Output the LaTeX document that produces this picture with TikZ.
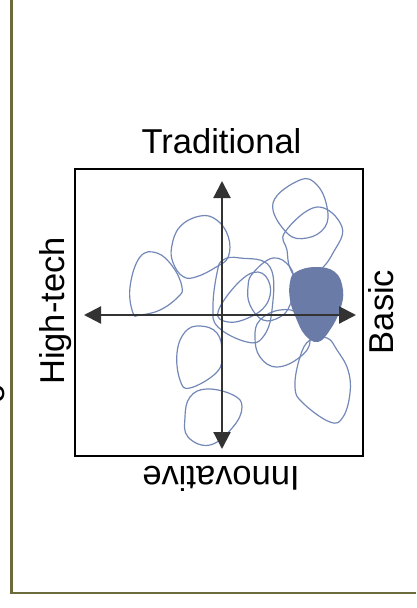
\documentclass[tikz,border=0pt]{standalone}
\usepackage{fontspec}
\setmainfont{Liberation Sans}
\usetikzlibrary{arrows.meta}
\definecolor{olive}{HTML}{6B6B3B}
\definecolor{blobline}{HTML}{7488B8}
\definecolor{blobfill}{HTML}{6B7BA8}
\definecolor{axis}{HTML}{333333}
\tikzset{
  blob/.style={draw=blobline, line width=1.2pt},
  filledblob/.style={fill=blobfill, draw=none},
  axisline/.style={draw=axis, line width=2.2pt, -{Triangle[length=17pt,width=17pt]}},
  lab/.style={font=\fontsize{34.5}{38}\selectfont, inner sep=0pt, anchor=base},
}
\begin{document}
\begin{tikzpicture}[x=1pt,y=-1pt]
\useasboundingbox (0,0) rectangle (416,608);
\fill[white] (0,0) rectangle (416,608);
% page border
\draw[olive, line width=2.5pt] (11.5,0) -- (11.5,593) -- (416,593);
% partial glyph at left edge
\node[lab, rotate=90, anchor=center] (cut) at (-5,394) {o};
% frame
\draw[black, line width=2pt] (75,169) rectangle (363,456);
% blobs
\draw[blob] plot[smooth cycle, tension=0.7] coordinates {(133,313) (130,287) (140,257) (157,253) (173,267) (182,287) (178,297) (160,310) (140,315)};
\draw[blob] plot[smooth cycle, tension=0.7] coordinates {(171.7,246.7) (180,226.7) (200,216) (216.7,220) (228.3,236.7) (228.3,256.7) (216.7,266.7) (196.7,276.7) (183.3,276.7) (173.3,263.3)};
\draw[blob] plot[smooth cycle, tension=0.7] coordinates {(223,260) (240,258) (270,267) (272,310) (263,337) (247,342) (218,327) (213,307) (217,273)};
\draw[blob] plot[smooth cycle, tension=0.7] coordinates {(218,312) (238,283) (258,272) (270,285) (266,305) (248,318) (228,322)};
\draw[blob] plot[smooth cycle, tension=0.7] coordinates {(253,273) (273,258) (290,267) (294,285) (290,305) (280,317) (263,320) (250,305) (248,287)};
\draw[blob] plot[smooth cycle, tension=0.7] coordinates {(260,320) (280,310) (300,315) (310,340) (300,357) (277,367) (260,357) (255,337)};
\draw[blob] plot[smooth cycle, tension=0.7] coordinates {(300,180) (317,185) (327,207) (325,227) (307,238) (287,233) (273,203)};
\draw[blob] plot[smooth cycle, tension=0.7] coordinates {(317,207) (342,227) (333,253) (318,272) (300,280) (290,268) (287,250) (285,232)};
\draw[blob] plot[smooth cycle, tension=0.7] coordinates {(310,340) (300,357) (295,387) (303,403) (330,422) (343,417) (350,393) (348,370) (337,350) (327,338)};
\draw[blob] plot[smooth cycle, tension=0.7] coordinates {(185,332) (200,326) (217,333) (222,353) (217,372) (190,388) (180,380) (177,353)};
\draw[blob] plot[smooth cycle, tension=0.7] coordinates {(190,397) (207,389) (233,395) (242,407) (233,427) (210,445) (188,437) (185,417)};
\fill[filledblob] plot[smooth cycle, tension=0.7] coordinates {(296,272) (315,267) (335,272) (343,290) (340,310) (330,330) (318,342) (305,335) (296,318) (290,300) (290,282)};
% axes
\coordinate (xl) at (84,315);
\coordinate (xr) at (356,315);
\coordinate (yt) at (222,181);
\coordinate (yb) at (222,449);
\coordinate (o) at (222,315);
\draw[axisline] (o) -- (xr);
\draw[axisline] (o) -- (xl);
\draw[axisline] (o) -- (yt);
\draw[axisline] (o) -- (yb);
% labels
\node[lab] (trad) at (221.5,153) {Traditional};
\node[lab, rotate=180] (inno) at (221,466) {Innovative};
\node[lab, rotate=90] (high) at (64,311) {High-tech};
\node[lab, rotate=90] (basic) at (393,312) {Basic};
\end{tikzpicture}
\end{document}
